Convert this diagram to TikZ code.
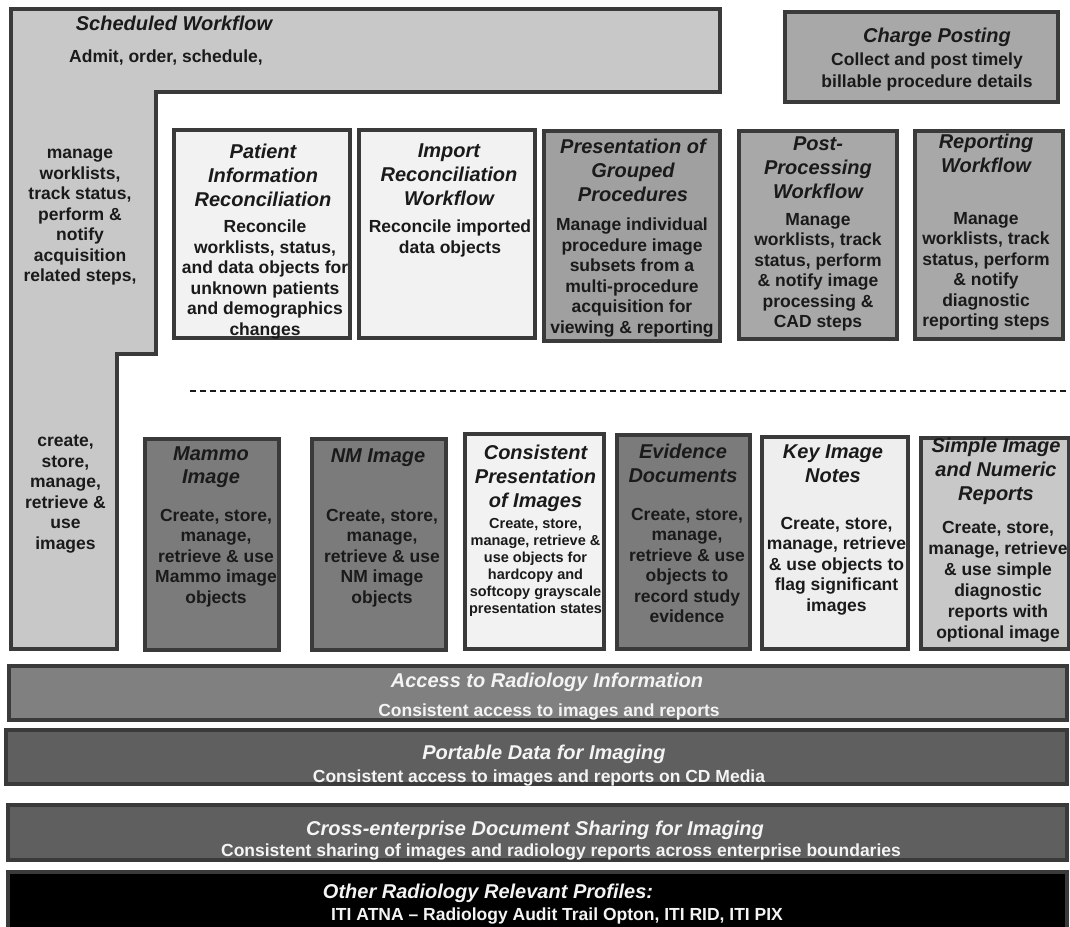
\documentclass[tikz,border=0pt]{standalone}
\usepackage{fontspec}
\setmainfont{Liberation Sans}
\definecolor{bord}{HTML}{3A3A3A}
\definecolor{ink}{HTML}{1A1A1A}
\definecolor{lgray}{HTML}{C8C8C8}
\definecolor{paper}{HTML}{F2F2F2}
\definecolor{paperb}{HTML}{EEEEEE}
\definecolor{mgray}{HTML}{A8A8A8}
\definecolor{mgrayb}{HTML}{A0A0A0}
\definecolor{dgray}{HTML}{7B7B7B}
\definecolor{bargray}{HTML}{808080}
\definecolor{bardark}{HTML}{5F5F5F}
\definecolor{barwhite}{HTML}{F4F4F4}

% profile box: name, x1, y1, x2, y2 (outer edges), fill
\newcommand\profbox[6]{%
  \node[box, fill=#6, minimum width=#4pt-#2pt-3.6pt, minimum height=#5pt-#3pt-3.6pt]
    (#1) at ({(#2+#4)/2},{(#3+#5)/2}) {};}
% clip to the inside of a box
\newcommand\insideof[1]{%
  \clip ([shift={(1.8,1.8)}]#1.north west) rectangle ([shift={(-1.8,-1.8)}]#1.south east);}

\begin{document}
\begin{tikzpicture}[x=1pt,y=-1pt,
  box/.style={draw=bord, line width=3.6pt, inner sep=0pt},
  ttl/.style={font=\fontsize{20}{24}\selectfont\bfseries\itshape, text=ink,
    align=center, inner sep=0pt, anchor=north, execute at begin node=\strut},
  bdy/.style={font=\fontsize{17.5}{20.5}\selectfont\bfseries, text=ink,
    align=center, inner sep=0pt, anchor=north, execute at begin node=\strut},
  small/.style={font=\fontsize{14.5}{17}\selectfont\bfseries, text=ink,
    align=center, inner sep=0pt, anchor=north, execute at begin node=\strut},
  barttl/.style={ttl, text=barwhite},
  barbdy/.style={bdy, text=barwhite},
  sep/.style={draw=ink, line width=1.1pt, dash pattern=on 6pt off 4pt}]
\useasboundingbox (0,0) rectangle (1070,926);

% Scheduled Workflow: L-shaped band
\draw[box, fill=lgray] (11,9) -- (720,9) -- (720,92) -- (156,92) -- (156,354)
  -- (117,354) -- (117,649) -- (11,649) -- cycle;
\node[ttl] (swt) at (174,13.4) {Scheduled Workflow};
\node[bdy] (swa) at (166,48) {Admit, order, schedule,};
\node[bdy] (swm) at (80,149) {manage\\worklists,\\track status,\\perform \&\\notify\\acquisition\\related steps,};
\node[bdy] (swc) at (65.5,435) {create,\\store,\\manage,\\retrieve \&\\use\\images};

% Charge Posting
\profbox{chg}{783}{10}{1060}{104}{mgray}
\node[ttl] (chgt) at (937,25.4) {Charge Posting};
\node[bdy, font=\fontsize{17.5}{21.5}\selectfont\bfseries] (chgb) at (927,53) {Collect and post timely\\billable procedure details};

% upper row of workflow profiles
\profbox{pir}{172}{128}{352}{340}{paper}
\begin{scope}\insideof{pir}
\node[ttl] (pirt) at (263,143.4) {Patient\\Information\\Reconciliation};
\node[bdy] (pirb) at (265,220) {Reconcile\\worklists, status,\\and data objects for\\unknown patients\\and demographics\\changes};
\end{scope}

\profbox{irw}{357}{128}{537}{340}{paper}
\begin{scope}\insideof{irw}
\node[ttl] (irwt) at (449,143.4) {Import\\Reconciliation\\Workflow};
\node[bdy] (irwb) at (450,220) {Reconcile imported\\data objects};
\end{scope}

\profbox{pgp}{542}{129}{722}{343}{mgrayb}
\begin{scope}\insideof{pgp}
\node[ttl] (pgpt) at (633,138.4) {Presentation of\\Grouped\\Procedures};
\node[bdy] (pgpb) at (632,218) {Manage individual\\procedure image\\subsets from a\\multi-procedure\\acquisition for\\viewing \& reporting};
\end{scope}

\profbox{ppw}{737}{129}{899}{341}{mgray}
\begin{scope}\insideof{ppw}
\node[ttl] (ppwt) at (818,136.4) {Post-\\Processing\\Workflow};
\node[bdy] (ppwb) at (818,213) {Manage\\worklists, track\\status, perform\\\& notify image\\processing \&\\CAD steps};
\end{scope}

\profbox{rpw}{913}{129}{1065}{341}{mgray}
\begin{scope}\insideof{rpw}
\node[ttl] (rpwt) at (986,133.4) {Reporting\\Workflow};
\node[bdy] (rpwb) at (986,212) {Manage\\worklists, track\\status, perform\\\& notify\\diagnostic\\reporting steps};
\end{scope}

% separator between workflow and content profiles
\coordinate (sepl) at (190,391);
\coordinate (sepr) at (1070,391);
\draw[sep] (sepl) -- (sepr);

% lower row of content profiles
\profbox{mam}{143}{437}{281}{652}{dgray}
\node[ttl, font=\fontsize{20}{23}\selectfont\bfseries\itshape] (mamt) at (211,446.4) {Mammo\\Image};
\node[bdy] (mamb) at (216,509) {Create, store,\\manage,\\retrieve \& use\\Mammo image\\objects};

\profbox{nmi}{310}{437}{448}{652}{dgray}
\node[ttl] (nmit) at (378,445.4) {NM Image};
\node[bdy] (nmib) at (382,509) {Create, store,\\manage,\\retrieve \& use\\NM image\\objects};

\profbox{cpi}{463}{432}{606}{651}{paper}
\begin{scope}\insideof{cpi}
\node[ttl] (cpit) at (535.5,444.4) {Consistent\\Presentation\\of Images};
\node[small] (cpib) at (535.5,518.3) {Create, store,\\manage, retrieve \&\\use objects for\\hardcopy and\\softcopy grayscale\\presentation states};
\end{scope}

\profbox{evd}{615}{433}{752}{651}{dgray}
\begin{scope}\insideof{evd}
\node[ttl] (evdt) at (683,443.4) {Evidence\\Documents};
\node[bdy] (evdb) at (687,508) {Create, store,\\manage,\\retrieve \& use\\objects to\\record study\\evidence};
\end{scope}

\profbox{kin}{760}{435}{910}{651}{paperb}
\begin{scope}\insideof{kin}
\node[ttl] (kint) at (833,444.4) {Key Image\\Notes};
\node[bdy] (kinb) at (836.5,517) {Create, store,\\manage, retrieve\\\& use objects to\\flag significant\\images};
\end{scope}

\profbox{sinr}{919}{436}{1071}{651}{lgray}
\begin{scope}\insideof{sinr}
\node[ttl] (sinrt) at (996,437.4) {Simple Image\\and Numeric\\Reports};
\node[bdy, font=\fontsize{17.5}{21}\selectfont\bfseries] (sinrb) at (998,521) {Create, store,\\manage, retrieve\\\& use simple\\diagnostic\\reports with\\optional image};
\end{scope}

% infrastructure bars
\profbox{ari}{7}{664}{1069}{722}{bargray}
\node[barttl] (arit) at (547,670.4) {Access to Radiology Information};
\node[barbdy] (arib) at (549,702) {Consistent access to images and reports};

\profbox{pdi}{4}{728}{1069}{786}{bardark}
\node[barttl] (pdit) at (544,742.4) {Portable Data for Imaging};
\node[barbdy] (pdib) at (539,768) {Consistent access to images and reports on CD Media};

\profbox{xdsi}{6}{803}{1069}{862}{bardark}
\node[barttl] (xdsit) at (535,818.4) {Cross-enterprise Document Sharing for Imaging};
\node[barbdy] (xdsib) at (561,842) {Consistent sharing of images and radiology reports across enterprise boundaries};

\profbox{orp}{6}{870}{1069}{932}{black}
\node[barttl] (orpt) at (488,881.4) {Other Radiology Relevant Profiles:};
\node[barbdy] (orpb) at (557,906) {ITI ATNA – Radiology Audit Trail Opton, ITI RID, ITI PIX};
\end{tikzpicture}
\end{document}
